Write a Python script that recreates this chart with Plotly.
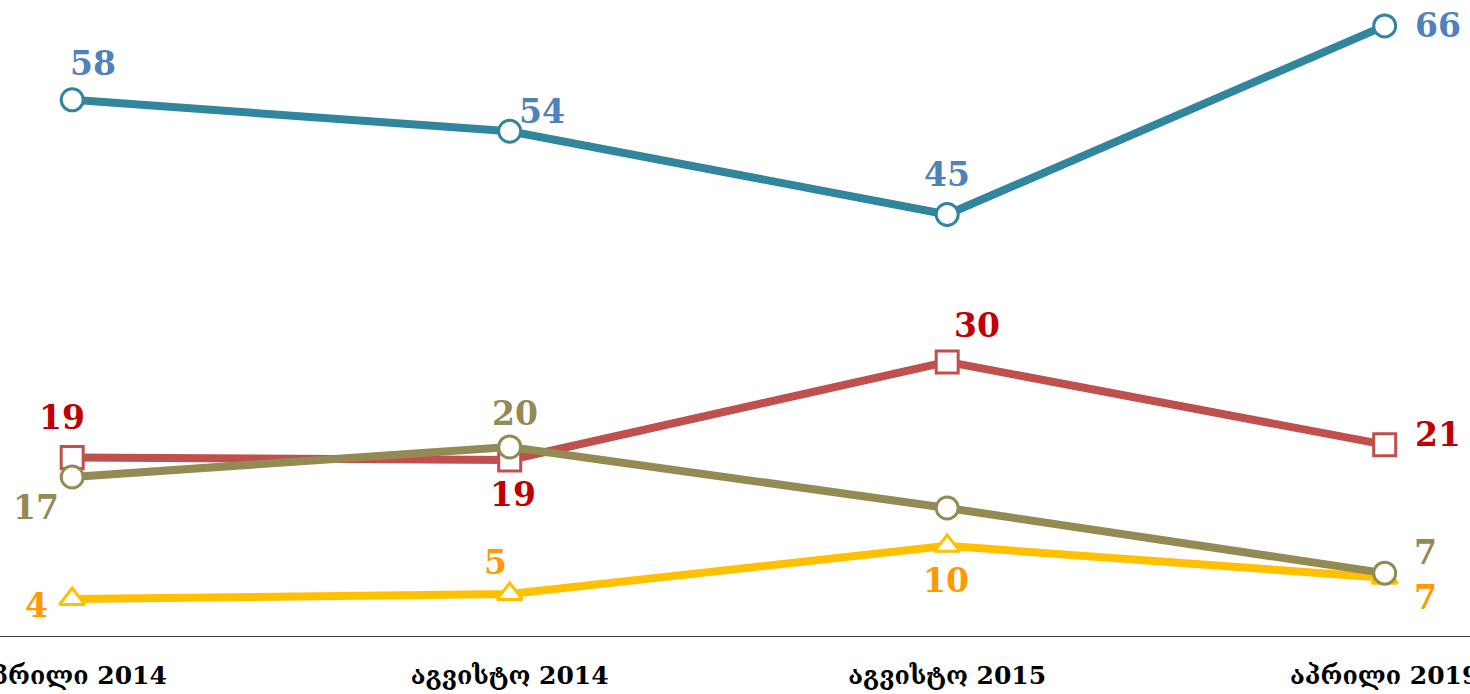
import plotly.graph_objects as go

categories = ["აპრილი 2014", "აგვისტო 2014", "აგვისტო 2015", "აპრილი 2019"]

blue_vals = [58.0, 54.6, 45.6, 66.0]
blue_text = ["58", "54", "45", "66"]
red_vals = [19.3, 19.05, 29.65, 20.7]
red_text = ["19", "19", "30", "21"]
olive_vals = [17.2, 20.45, 13.85, 6.8]
olive_text = ["17", "20", "", "7"]
yellow_vals = [4.0, 4.55, 9.75, 6.3]
yellow_text = ["4", "5", "10", "7"]

FONT = "DejaVu Serif"

# label offsets in pixels (dx right, dy down) relative to each point
blue_off = [(21, -36), (32, -20), (0, -40), (53, 0)]
red_off = [(-10, -40), (3, 35), (30, -36), (53, -10)]
olive_off = [(-36, 30), (5, -33), (0, 0), (41, -21)]
yellow_off = [(-36, 6), (-14, -31), (-1, 35), (41, 20)]

fig = go.Figure()
annotations = []

def series(vals, text, offs, line_color, text_color, symbol):
    fig.add_trace(go.Scatter(
        x=categories, y=vals, mode="lines+markers",
        line=dict(color=line_color, width=8),
        marker=dict(symbol=symbol, size=22, color="white",
                    line=dict(color=line_color, width=3)),
        cliponaxis=False, showlegend=False, hoverinfo="x+y",
    ))
    for c, v, t, (dx, dy) in zip(categories, vals, text, offs):
        if not t:
            continue
        annotations.append(dict(
            x=c, y=v, xref="x", yref="y", text=t, showarrow=False,
            xshift=dx, yshift=-dy, xanchor="center", yanchor="middle",
            font=dict(family=FONT, size=33, color=text_color, weight="bold"),
        ))

series(blue_vals, blue_text, blue_off, "#31859C", "#4F81BD", "circle")
series(yellow_vals, yellow_text, yellow_off, "#FFC000", "#FF9900", "triangle-up")
series(red_vals, red_text, red_off, "#C0504D", "#C00000", "square")
series(olive_vals, olive_text, olive_off, "#948A54", "#948A54", "circle")

fig.update_layout(
    width=1470, height=694,
    margin=dict(l=0, r=0, t=0, b=58),
    paper_bgcolor="white", plot_bgcolor="white",
    annotations=annotations,
    xaxis=dict(range=[-0.165, 3.195], showgrid=False, zeroline=False,
               showline=True, linecolor="#404040", linewidth=1,
               ticks="", ticklabelstandoff=17, automargin=False,
               tickfont=dict(family=FONT, size=25, color="black", weight="bold")),
    yaxis=dict(range=[0, 68.8], visible=False, showgrid=False, zeroline=False,
               automargin=False),
)

fig.write_html("out.html", config={"displayModeBar": False},
               post_script="document.body.style.margin='0px';")
